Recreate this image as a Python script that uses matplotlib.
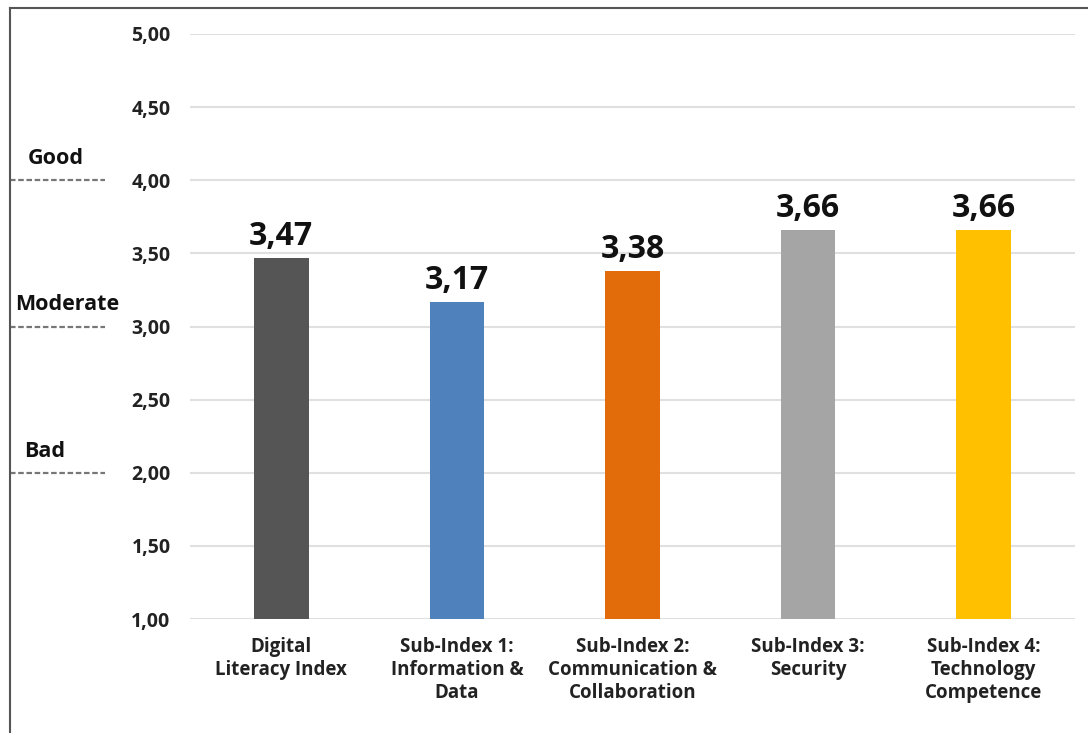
import matplotlib.pyplot as plt
import matplotlib.transforms as mtransforms
from matplotlib.lines import Line2D

categories = ["Digital\nLiteracy Index",
              "Sub-Index 1:\nInformation &\nData",
              "Sub-Index 2:\nCommunication &\nCollaboration",
              "Sub-Index 3:\nSecurity",
              "Sub-Index 4:\nTechnology\nCompetence"]
values = [3.47, 3.17, 3.38, 3.66, 3.66]
colors = ["#555555", "#4f81bd", "#e36c0a", "#a5a5a5", "#ffc000"]
yticks = [1.0, 1.5, 2.0, 2.5, 3.0, 3.5, 4.0, 4.5, 5.0]
levels = [("Good", 4.0, 56), ("Moderate", 3.0, 67), ("Bad", 2.0, 45)]

plt.rcParams['font.family'] = ['Open Sans', 'DejaVu Sans']

W, H = 1088, 733
fig = plt.figure(figsize=(W / 100, H / 100), dpi=100)
ax = fig.add_axes([190 / W, 1 - 619 / H, (1075 - 190) / W, (619 - 34) / H])

x = range(len(values))
ax.bar(x, values, width=0.31, color=colors, zorder=3, bottom=0)
ax.set_ylim(1.0, 5.0)
ax.set_xlim(-0.52, len(values) - 0.48)

for i, v in enumerate(values):
    ax.text(i, v + 0.035, ("%.2f" % v).replace(".", ","), ha="center", va="bottom",
            fontsize=23, fontweight="bold", color="#111111")

ax.set_yticks(yticks)
ax.set_yticklabels([("%.2f" % t).replace(".", ",") for t in yticks],
                   fontsize=14, fontweight="bold", color="#222222")
ax.set_xticks(list(x))
ax.set_xticklabels(categories, fontsize=13.5, fontweight="bold", color="#222222",
                   linespacing=1.2)
ax.tick_params(axis="both", length=0)
ax.tick_params(axis="y", pad=14)
ax.tick_params(axis="x", pad=13)
ax.grid(axis="y", color="#e0e0e0", linewidth=1.5, zorder=0)
for s in ax.spines.values():
    s.set_visible(False)

# quality levels on the left
trans = mtransforms.blended_transform_factory(fig.transFigure, ax.transData)
for name, lvl, xc in levels:
    ax.plot([10 / W, 105 / W], [lvl, lvl], transform=trans, clip_on=False,
            color="#777777", linestyle=(0, (2.5, 1.2)), linewidth=1.6)
    ax.text(xc / W, lvl + 0.11, name, transform=trans, ha="center",
            va="baseline", fontsize=15.5, fontweight="bold", color="#111111")

# frame
fig.add_artist(Line2D([10 / W, 1], [1 - 8 / H, 1 - 8 / H], transform=fig.transFigure,
                      color="#555555", linewidth=1.5))
fig.add_artist(Line2D([10 / W, 10 / W], [0, 1 - 8 / H], transform=fig.transFigure,
                      color="#555555", linewidth=1.5))

fig.savefig("out.png", dpi=100)
